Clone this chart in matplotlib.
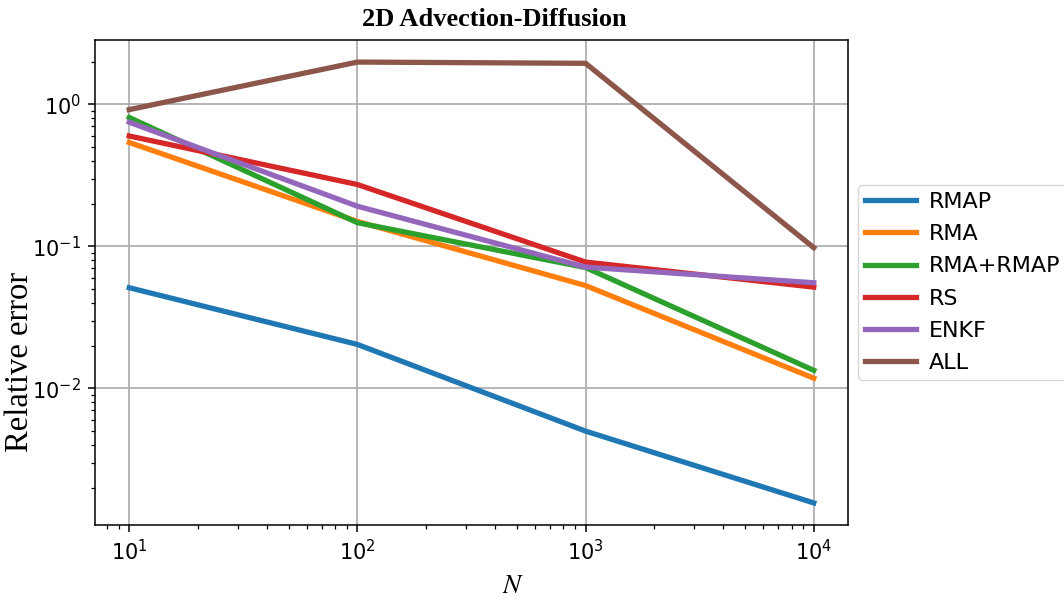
import matplotlib
matplotlib.use("Agg")
import matplotlib.pyplot as plt

N = [10, 100, 1000, 10000]
labels = ["RMAP", "RMA", "RMA+RMAP", "RS", "ENKF", "ALL"]
rmap = [0.0512, 0.0204, 0.0050, 0.00156]
rma = [0.54, 0.150, 0.053, 0.0118]
rma_rmap = [0.81, 0.147, 0.071, 0.0134]
rs = [0.60, 0.273, 0.0776, 0.0517]
enkf = [0.75, 0.192, 0.0715, 0.0555]
all_ = [0.92, 1.99, 1.95, 0.098]
series = [rmap, rma, rma_rmap, rs, enkf, all_]

fig = plt.figure(figsize=(10.64, 6.01), dpi=100)
ax = fig.add_axes([0.0893, 0.1265, 0.7077, 0.8069])
for s, lab in zip(series, labels):
    ax.plot(N, s, lw=3.8, label=lab)
ax.set_xscale("log")
ax.set_yscale("log")
ax.grid(True, which="major", color="#b0b0b0", lw=1.3)
for sp in ax.spines.values():
    sp.set_linewidth(1.1)
ax.tick_params(which="major", labelsize=15, length=5, width=1.1, pad=5)
ax.tick_params(which="minor", length=3.2, width=0.9)
ax.set_title("2D Advection-Diffusion", fontfamily="Liberation Serif", fontweight="bold",
             fontsize=19, pad=10, x=0.53)
ax.set_ylabel("Relative error", fontfamily="Liberation Serif", fontsize=23.5)
ax.yaxis.set_label_coords(-0.08, 0.336)
ax.set_xlabel(r"$N$", fontsize=19.5, math_fontfamily="stix")
ax.xaxis.set_label_coords(0.555, -0.1)
ax.legend(loc="center left", bbox_to_anchor=(1.0, 0.5), fontsize=16, labelspacing=0.55,
          handlelength=2.3, handletextpad=0.6, borderpad=0.3, borderaxespad=0.45)
fig.savefig("out.png", dpi=100)
